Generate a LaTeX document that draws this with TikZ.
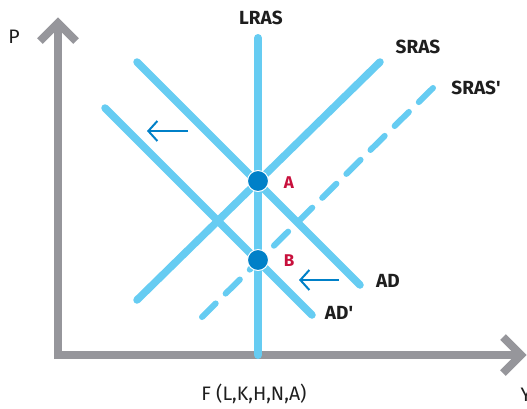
\documentclass[tikz,border=0pt]{standalone}
\usepackage{fontspec}
\setmainfont{Fira Sans}
\usetikzlibrary{arrows.meta}
\definecolor{axisgray}{RGB}{150,150,155}
\definecolor{curveblue}{RGB}{102,204,242}
\definecolor{dotblue}{RGB}{0,128,200}
\definecolor{labred}{RGB}{200,16,60}
\definecolor{txt}{RGB}{30,30,30}
\tikzset{
  axis/.style={draw=axisgray, line width=8pt},
  axhead/.style={draw=axisgray, line width=8pt, line cap=butt, line join=miter},
  curve/.style={draw=curveblue, line width=7.5pt, line cap=round},
  dcurve/.style={draw=curveblue, line width=6pt, line cap=round, dash pattern=on 20pt off 14pt},
  eqdot/.style={circle, fill=dotblue, draw=white, line width=1pt, minimum size=21pt, inner sep=0pt},
  lab/.style={font=\fontsize{19}{19}\selectfont\bfseries, text=txt},
  axlab/.style={font=\fontsize{19.5}{19.5}\selectfont, text=txt},
  ptlab/.style={font=\fontsize{17}{17}\selectfont\bfseries, text=labred},
  shiftarrow/.style={draw=dotblue, line width=2pt, -{Straight Barb[length=9pt,width=20pt,line width=2pt]}}
}
\begin{document}
\begin{tikzpicture}[x=1pt,y=-1pt]
\useasboundingbox (0,0) rectangle (527,408);
% axes
\coordinate (O) at (58,355);
\coordinate (Ptop) at (58,26);
\coordinate (Yend) at (519,355);
\draw[axis] (58,359) -- (Ptop);
\draw[axis] (O) -- (Yend);
\draw[axhead] (40,41) -- (58,23) -- (76,41);
\draw[axhead] (503,337) -- (521,355) -- (503,373);
\node[axlab] (P) at (14,37) {P};
\node[axlab, anchor=west] (Y) at (517,395) {Y};
\node[axlab] (F) at (254,394) {F (L,K,H,N,A)};
% curves
\coordinate (lr1) at (258,38);
\coordinate (lr2) at (258,355);
\draw[draw=curveblue, line width=8pt, line cap=round] (lr1) -- (258,351) -- (lr2);
\coordinate (s1) at (137,300);
\coordinate (s2) at (380,62);
\draw[curve] (s1) -- (s2);
\coordinate (sp1) at (202,317);
\coordinate (sp2) at (433,88);
\draw[dcurve] (sp2) -- (sp1);
\coordinate (ad1) at (137,62);
\coordinate (ad2) at (360,285);
\draw[curve] (ad1) -- (ad2);
\coordinate (adp1) at (105,108);
\coordinate (adp2) at (312,315);
\draw[curve] (adp1) -- (adp2);
% labels
\node[lab] (LRAS) at (261,18) {LRAS};
\node[lab] (SRAS) at (418,47) {SRAS};
\node[lab] (SRASp) at (476,88) {SRAS\textquotesingle};
\node[lab] (AD) at (388,281) {AD};
\node[lab] (ADp) at (339,313) {AD\textquotesingle};
% equilibrium points
\node[eqdot] (A) at (258,181) {};
\node[eqdot] (B) at (258,260) {};
\node[ptlab] (Alab) at (289,183) {A};
\node[ptlab] (Blab) at (289,261) {B};
% shift arrows
\coordinate (u1) at (188,131);
\coordinate (u2) at (147,131);
\draw[shiftarrow] (u1) -- (u2);
\coordinate (l1) at (339,280);
\coordinate (l2) at (299,280);
\draw[shiftarrow] (l1) -- (l2);
\end{tikzpicture}
\end{document}
